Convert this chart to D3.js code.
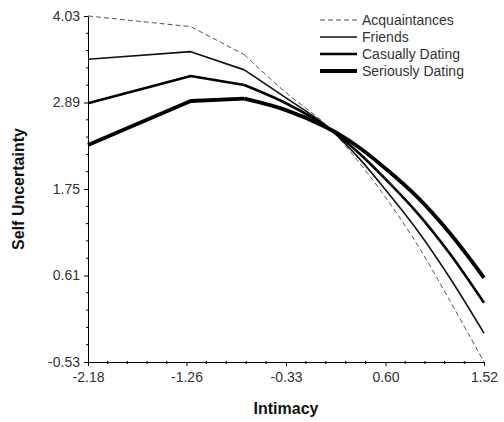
<!DOCTYPE html>
<html>
<head>
<meta charset="utf-8">
<script src="https://cdn.jsdelivr.net/npm/d3@7"></script>
<style>
  body { margin: 0; background: #fff; }
  svg { display: block; font-family: Arial, "Liberation Sans", sans-serif; }
  .tick-label { font-size: 14px; fill: #333; }
  .axis-title { font-size: 16px; font-weight: bold; fill: #111; }
  .legend text { font-size: 14px; fill: #333; }
</style>
</head>
<body>
<div id="chart"></div>
<script>
(function () {
    "use strict";

    // data
    var intimacy = [-2.18, -1.22, -0.72, -0.33, 0.05, 0.33, 0.60, 0.90, 1.20, 1.52];
    var acquaintances = [4.03, 3.89, 3.52, 3.02, 2.59, 2.14, 1.64, 1.01, 0.28, -0.53];
    var friends = [3.46, 3.56, 3.32, 2.95, 2.58, 2.19, 1.74, 1.20, 0.58, -0.15];
    var casuallyDating = [2.88, 3.24, 3.12, 2.88, 2.57, 2.25, 1.88, 1.43, 0.90, 0.25];
    var seriouslyDating = [2.33, 2.91, 2.94, 2.79, 2.56, 2.32, 2.02, 1.64, 1.17, 0.58];
    var seriesNames = ["Acquaintances", "Friends", "Casually Dating", "Seriously Dating"];
    var xTicks = [-2.18, -1.26, -0.33, 0.60, 1.52];
    var yTicks = [-0.53, 0.61, 1.75, 2.89, 4.03];

    var widthGlobal = 504, heightGlobal = 422,
        margin = {top: 16, right: 20, bottom: 60, left: 88},
        width = widthGlobal - margin.left - margin.right,
        height = heightGlobal - margin.top - margin.bottom;

    var x = d3.scaleLinear().domain([-2.18, 1.52]).range([0, width]),
        y = d3.scaleLinear().domain([-0.53, 4.03]).range([height, 0]);

    var fmt = function (d) { return d3.format(".2f")(d).replace("\u2212", "-"); };

    var styles = [
        {w: 1, dash: "5,3", color: "#555"},
        {w: 1.6, dash: null, color: "#111"},
        {w: 2.6, dash: null, color: "#000"},
        {w: 3.8, dash: null, color: "#000"}
    ];

    var series = [acquaintances, friends, casuallyDating, seriouslyDating].map(function (vals, i) {
        return {name: seriesNames[i], style: styles[i],
            values: vals.map(function (v, j) { return {x: intimacy[j], y: v}; })};
    });

    var svg = d3.select("#chart").append("svg")
        .attr("width", widthGlobal)
        .attr("height", heightGlobal);
    var g = svg.append("g")
        .attr("transform", "translate(" + margin.left + "," + margin.top + ")");

    // minor ticks (5 intervals between majors)
    function minors(ticks) {
        var out = [], k, j, step;
        for (k = 0; k < ticks.length - 1; k++) {
            step = (ticks[k + 1] - ticks[k]) / 5;
            for (j = 1; j < 5; j++) { out.push(ticks[k] + step * j); }
        }
        return out;
    }

    var xAxis = g.append("g")
        .attr("transform", "translate(0," + height + ")")
        .call(d3.axisBottom(x).tickValues(xTicks).tickSize(4).tickSizeOuter(0)
            .tickFormat(fmt));
    xAxis.selectAll("text").attr("class", "tick-label").attr("dy", "0.9em")
        .attr("font-family", null).attr("font-size", null);
    xAxis.append("g").selectAll("line")
        .data(minors(xTicks))
        .enter().append("line")
        .attr("x1", function (d) { return x(d); })
        .attr("x2", function (d) { return x(d); })
        .attr("y1", -1).attr("y2", 2)
        .attr("stroke", "#000");

    var yAxis = g.append("g")
        .call(d3.axisLeft(y).tickValues(yTicks).tickSize(4).tickSizeOuter(0)
            .tickFormat(fmt));
    yAxis.selectAll("text").attr("class", "tick-label").attr("dx", "-1px")
        .attr("font-family", null).attr("font-size", null);
    yAxis.append("g").selectAll("line")
        .data(minors(yTicks))
        .enter().append("line")
        .attr("y1", function (d) { return y(d); })
        .attr("y2", function (d) { return y(d); })
        .attr("x1", -2).attr("x2", 1)
        .attr("stroke", "#000");
    g.selectAll(".domain").attr("stroke", "#000");

    // straight segments on the left, smooth fall on the right
    var lineLeft = d3.line()
        .x(function (d) { return x(d.x); })
        .y(function (d) { return y(d.y); });
    var lineRight = d3.line()
        .x(function (d) { return x(d.x); })
        .y(function (d) { return y(d.y); })
        .curve(d3.curveCatmullRom);

    var paths = g.append("g").selectAll(".series")
        .data(series)
        .enter().append("g")
        .attr("class", "series")
        .attr("fill", "none")
        .attr("stroke", function (d) { return d.style.color; })
        .attr("stroke-width", function (d) { return d.style.w; })
        .attr("stroke-dasharray", function (d) { return d.style.dash; })
        .attr("stroke-linejoin", "round");
    paths.append("path")
        .attr("d", function (d) { return lineLeft(d.values.slice(0, 3)); });
    paths.append("path")
        .attr("d", function (d) { return lineRight(d.values.slice(2)); });

    // axis titles
    svg.append("text")
        .attr("class", "axis-title")
        .attr("x", margin.left + width / 2)
        .attr("y", 414)
        .attr("text-anchor", "middle")
        .text("Intimacy");
    svg.append("text")
        .attr("class", "axis-title")
        .attr("transform", "translate(24," + (margin.top + height / 2) + ") rotate(-90)")
        .attr("text-anchor", "middle")
        .text("Self Uncertainty");

    // legend
    var legend = svg.append("g").attr("class", "legend")
        .attr("transform", "translate(320,20)");
    var rows = legend.selectAll("g")
        .data(series)
        .enter().append("g")
        .attr("transform", function (d, i) { return "translate(0," + i * 17 + ")"; });
    rows.append("line")
        .attr("x1", 0).attr("x2", 37)
        .attr("stroke", function (d) { return d.style.color; })
        .attr("stroke-width", function (d) { return d.style.w; })
        .attr("stroke-dasharray", function (d) { return d.style.dash; });
    rows.append("text")
        .attr("x", 42).attr("dy", "0.35em")
        .text(function (d) { return d.name; });
}());
</script>
</body>
</html>
